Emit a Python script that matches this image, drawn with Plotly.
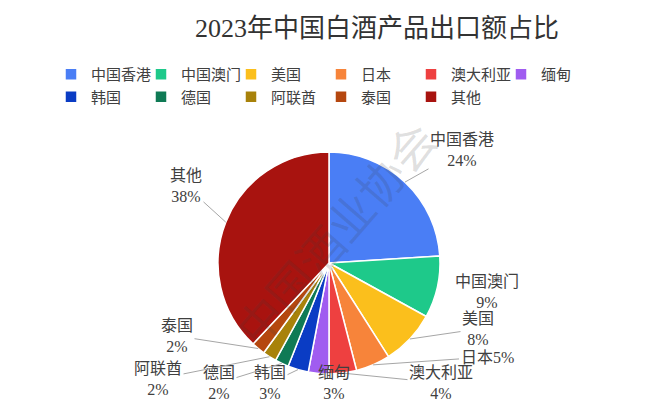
import math
import plotly.graph_objects as go

W, H = 660, 406

# ---- data ----
names = ["中国香港", "中国澳门", "美国", "日本", "澳大利亚", "缅甸",
         "韩国", "德国", "阿联酋", "泰国", "其他"]
values = [24, 9, 8, 5, 4, 3, 3, 2, 2, 2, 38]
colors = ["#4a7ef5", "#1ec98a", "#fbbf1c", "#f7843a", "#ee4040", "#a05cf0",
          "#0a3cc4", "#0f7a55", "#a8820a", "#b5470f", "#a8130f"]
title_text = "2023年中国白酒产品出口额占比"

# ---- layout (pixel) ----
ML, MR = 0, 40          # right margin narrows the legend's row width -> 6 entries per row
PW = W - ML - MR        # plot-area width in pixels (paper coordinates span this)


def px2paper_x(x):
    return (x - ML) / PW


def px2paper_y(y):
    return 1 - y / H


cx, cy, r = 329, 263, 111
label_pos = [(462, 150), (487, 292), (478, 329), (487, 357), (441, 383), (334, 383),
             (270, 383), (219, 383), (158, 379), (177, 336), (186, 186)]
leader = [True, False, True, True, True, False, True, True, True, True, True]
single_line = [False, False, False, True, False, False, False, False, False, False, False]

FONT = "Liberation Serif, Noto Sans CJK SC, serif"
TXT = "#404040"

fig = go.Figure()
fig.add_trace(go.Pie(
    labels=names, values=values, sort=False, direction="clockwise", rotation=0,
    marker=dict(colors=colors, line=dict(color="white", width=1.5)),
    textinfo="none", hoverinfo="label+percent",
    domain=dict(x=[px2paper_x(cx - r), px2paper_x(cx + r)],
                y=[px2paper_y(cy + r), px2paper_y(cy - r)]),
))

total = sum(values)
annotations = []
cum = 0
for i, (n, v) in enumerate(zip(names, values)):
    mid = (cum + v / 2) / total
    cum += v
    th = 2 * math.pi * mid
    px = cx + r * math.sin(th)
    py = cy - r * math.cos(th)
    pct = f"{round(100 * v / total)}%"
    text = f"{n}{pct}" if single_line[i] else f"{n}<br>{pct}"
    lx, ly = label_pos[i]
    if leader[i]:
        annotations.append(dict(
            x=px2paper_x(px), y=px2paper_y(py), xref="paper", yref="paper",
            ax=lx - px, ay=ly - py, axref="pixel", ayref="pixel",
            text=text, showarrow=True, arrowhead=0, arrowwidth=1,
            arrowcolor="#a6a6a6", standoff=0,
            font=dict(family=FONT, size=16, color=TXT), align="center"))
    else:
        annotations.append(dict(
            x=px2paper_x(lx), y=px2paper_y(ly), xref="paper", yref="paper",
            text=text, showarrow=False, xanchor="center", yanchor="middle",
            font=dict(family=FONT, size=16, color=TXT), align="center"))

# watermark
annotations.append(dict(
    x=px2paper_x(337), y=px2paper_y(235), xref="paper", yref="paper", text="中国酒业协会",
    showarrow=False, textangle=-49, font=dict(family=FONT, size=46, color="rgba(60,60,60,0.16)")))

fig.update_layout(
    width=W, height=H,
    margin=dict(l=ML, r=MR, t=0, b=0),
    paper_bgcolor="white", plot_bgcolor="white",
    title=dict(text=title_text, x=377 / W, xanchor="center", y=1 - 28 / H, yanchor="middle",
               font=dict(family=FONT, size=26, color="#333333")),
    showlegend=True,
    legend=dict(orientation="h", x=px2paper_x(51), y=px2paper_y(58), xanchor="left", yanchor="top",
                entrywidth=45, entrywidthmode="pixels", traceorder="normal",
                tracegroupgap=0,
                font=dict(family=FONT, size=15, color=TXT), itemclick=False),
    annotations=annotations,
)

fig.write_html("out.html", config={"displayModeBar": False},
               post_script="document.body.style.margin='0px';document.body.style.overflow='hidden';")
